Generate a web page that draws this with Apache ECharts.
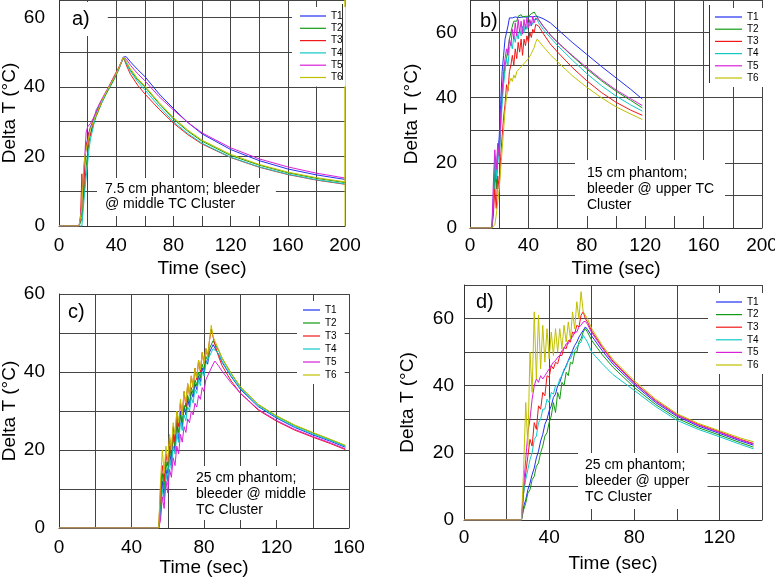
<!DOCTYPE html>
<html>
<head>
<meta charset="utf-8">
<script src="https://cdn.jsdelivr.net/npm/echarts@6/dist/echarts.min.js"></script>
<style>
  html, body { margin: 0; padding: 0; background: #fff; }
  #chart { width: 775px; height: 580px; }
</style>
</head>
<body>
<div id="chart"></div>
<script>
// thermocouple names and colours
const seriesNames = ['T1', 'T2', 'T3', 'T4', 'T5', 'T6'];
const seriesColors = ['#2030f0', '#129a12', '#f01818', '#10c8c8', '#d820d8', '#c0c000'];

// a) 7.5 cm phantom, bleeder @ middle TC cluster
const timeA = [0, 14, 15, 16, 17, 18, 19, 20, 21, 22, 24, 26, 28, 30, 33, 36, 39, 42, 45, 46, 47, 48, 50, 55, 60, 70, 80, 90, 100, 120, 140, 160, 180, 200];
const aT1 = [0, 0, 0, 4, 12, 19, 23, 25, 27, 28.5, 30.5, 32.5, 34.5, 36, 38.5, 40.5, 42.8, 45.5, 48.6, 49, 48.7, 48.2, 47.2, 45, 43, 38, 33.8, 29.8, 26.5, 22, 18.8, 16.4, 14.7, 13.4];
const aT2 = [0, 0, 0, 2, 7, 12, 17, 21, 24, 26.5, 29, 31.5, 33.5, 35.5, 38, 40.2, 42.5, 45.2, 48.4, 47.8, 47, 46.2, 44.8, 42, 40, 35.2, 30.8, 27.3, 24.4, 20.3, 17.5, 15.3, 13.7, 12.5];
const aT3 = [0, 0, 2, 15, 8, 17, 24, 22, 27, 26, 30.5, 32, 34, 36.2, 38.5, 41, 43.5, 45.8, 48.3, 47.4, 46.4, 45.4, 43.6, 40.5, 38, 33.6, 29.6, 26.3, 23.6, 19.7, 16.9, 14.8, 13.2, 12];
const aT4 = [0, 0, 0, 0, 5, 10, 14, 18, 22, 25, 28.5, 33.5, 34.5, 35.5, 38.5, 40.5, 43, 45.4, 48.4, 47.7, 46.8, 46, 44.4, 41.5, 39.2, 34.4, 30, 26.6, 23.8, 19.8, 17, 14.9, 13.3, 12.1];
const aT5 = [0, 0, 0, 6, 14, 20, 27, 28.5, 29, 29.5, 31, 33, 35, 36.5, 38.8, 41, 43.2, 45.6, 48.5, 48.5, 48, 47.4, 46.2, 43.8, 41.8, 37.2, 33.4, 29.8, 26.8, 22.5, 19.3, 17, 15.2, 13.8];
const aT6 = [0, 0, 0, 5, 15, 20, 22, 24, 26, 28, 30, 32, 34, 36, 38.5, 40.8, 43, 45.6, 48.6, 48.2, 47.4, 46.6, 45.2, 42.4, 40.3, 35.5, 31.2, 27.6, 24.7, 20.6, 17.7, 15.5, 13.9, 12.7];
const aT6Tail = [[200, 70], [200, 0]]; // T6 trace jumps at the end of the record

// b) 15 cm phantom, bleeder @ upper TC cluster
const timeB = [0, 15, 16, 17, 18, 19, 20, 21, 22, 23, 24, 25, 26, 27, 28, 29, 30, 31, 32, 33, 34, 35, 36, 37, 38, 39, 40, 41, 42, 43, 44, 45, 46, 47, 50, 55, 60, 70, 80, 90, 100, 110, 118];
const bT1 = [0, 0, 8, 18, 14, 22, 28, 38, 48, 53, 58, 60, 62, 64.5, 65, 64.5, 65, 64.8, 65, 64.6, 65, 64.7, 65.1, 64.8, 65, 64.7, 65.2, 64.9, 65, 64.8, 65.2, 65, 65, 64.8, 64.3, 63, 61, 57, 53.3, 49.6, 46.1, 42.6, 39.6];
const bT2 = [0, 0, 6, 20, 12, 24, 22, 32, 40, 46, 50, 52, 55, 58, 60, 62, 63.5, 64, 63.5, 65, 64.5, 65.5, 64.8, 65.3, 65, 65.6, 65, 65.5, 65.8, 65.2, 66.3, 65.5, 64.8, 64, 62, 59.3, 57, 52.8, 48.8, 45.2, 42, 39.2, 36.9];
const bT3 = [0, 0, 4, 12, 6, 16, 12, 22, 28, 34, 38, 44, 42, 48, 50, 53, 50, 55, 52, 57, 54, 58, 53, 58, 56, 59, 57, 60, 58.5, 61, 60, 62.5, 63, 62, 59.8, 56.5, 54, 49.3, 45.2, 41.6, 38.6, 36.2, 34.6];
const bT4 = [0, 0, 10, 22, 15, 25, 20, 30, 38, 44, 48, 52, 50, 55, 57, 55, 59, 57, 60, 58, 61, 59, 62, 60, 62.5, 61, 63, 62, 63.5, 62.5, 64, 64.5, 64, 63, 61, 58.5, 56, 51.6, 47.4, 43.7, 40.5, 37.8, 35.9];
const bT5 = [0, 0, 14, 24, 18, 26, 22, 34, 42, 48, 52, 55, 53, 58, 56, 61, 58, 63, 59, 64, 60, 63.5, 59.5, 64, 61, 64.5, 61.5, 64, 62, 65, 63, 64.5, 64.8, 64, 62, 59.3, 57, 53, 49.2, 45.6, 42.4, 39.7, 37.6];
const bT6 = [0, 0, 0, 1, 4, 8, 12, 18, 24, 30, 36, 40, 43, 44.5, 46, 45, 47, 46, 48, 47.5, 49, 48.5, 50, 49.5, 51, 50.5, 52, 52.5, 53.5, 54.5, 55.5, 57, 58, 57.5, 55.8, 53.2, 51, 46.8, 43.2, 40, 37.2, 35, 33.3];

// c) 25 cm phantom, bleeder @ middle TC cluster
const timeC = [0, 55, 56, 57, 58, 59, 60, 61, 62, 63, 64, 65, 66, 67, 68, 69, 70, 71, 72, 73, 74, 75, 76, 77, 78, 79, 80, 81, 82, 83, 84, 85, 86, 88, 90, 95, 100, 110, 120, 130, 140, 150, 158];
const cT1 = [0, 0, 4, 12, 8, 15, 12, 20, 16, 24, 20, 28, 22, 30, 26, 31, 29, 33, 31, 35, 33.5, 37, 35.5, 39, 37.5, 41, 39.5, 43, 42, 45, 44.5, 47, 46.5, 44.5, 42.5, 38.8, 35.6, 31.1, 28.2, 25.8, 23.9, 22.2, 20.7];
const cT2 = [0, 0, 6, 14, 10, 17, 14, 21, 18, 24, 21, 27, 24.5, 29, 27, 31.5, 29.5, 34, 32, 36, 34.5, 38, 36.5, 40, 38.5, 42, 40.5, 44, 43, 46, 45.5, 48, 47.8, 45.6, 43.5, 39.6, 36.2, 31.6, 28.7, 26.3, 24.4, 22.6, 21.1];
const cT3 = [0, 0, 10, 16, 12, 19, 16, 23, 19, 26, 22, 30, 26, 32, 29, 35, 31, 37, 34, 39, 36, 41, 38, 43, 40, 45, 42, 46, 44, 48, 51, 49, 47, 44, 41.6, 37.7, 34.6, 30.2, 27.4, 25.1, 23.3, 21.6, 20.1];
const cT4 = [0, 0, 3, 10, 7, 14, 11, 18, 15, 21, 19, 24, 22, 27, 25, 29, 27.5, 31, 30, 33.5, 32, 35.5, 34.5, 38, 36.5, 40, 39, 42, 41.5, 44, 44, 46, 46.5, 44.8, 42.8, 39, 35.8, 31.3, 28.4, 26, 24.1, 22.4, 20.9];
const cT5 = [0, 0, 2, 8, 5, 12, 9, 15, 13, 18, 16, 21, 19, 24, 22, 26, 24.5, 28, 27, 30, 29, 32, 31, 34, 33, 36, 35, 38, 37.5, 40, 40, 42, 42.8, 41.6, 40.2, 37.2, 34.6, 30.4, 27.6, 25.3, 23.5, 21.8, 20.3];
const cT6 = [0, 0, 12, 20, 14, 21, 17, 24, 20, 27, 24, 30, 27, 33, 29, 35, 32, 37, 34, 39, 36, 41, 38.5, 43, 40.5, 45, 42, 46, 44, 48, 52, 49, 48, 45.8, 43.6, 39.7, 36.3, 31.7, 28.8, 26.4, 24.5, 22.7, 21.2];

// d) 25 cm phantom, bleeder @ upper TC cluster
const timeD = [0, 27, 28, 29, 30, 31, 32, 33, 34, 35, 36, 37, 38, 39, 40, 41, 42, 43, 44, 45, 46, 47, 48, 49, 50, 51, 52, 53, 54, 55, 56, 57, 58, 60, 65, 70, 80, 90, 100, 110, 120, 130, 136];
const dT1 = [0, 0, 4, 6, 9, 11, 13.5, 15.5, 18.5, 20.5, 23.5, 25.5, 28.5, 30, 32.5, 34, 36.5, 37.5, 40, 41, 43, 44.5, 46, 47.5, 49, 50.5, 52, 53, 54.5, 55.5, 56.5, 57.5, 56.8, 54.8, 50.4, 46.4, 40.3, 35, 30.9, 28, 25.8, 23.5, 22.3];
const dT2 = [0, 0, 3, 5, 8, 9, 12, 13, 16, 17, 20, 22, 25, 26, 29, 31, 35, 32, 38, 36, 41, 40, 44, 43, 47, 46.5, 50, 50, 53, 54, 56, 57, 56, 53.5, 49.2, 45.5, 39.5, 34.4, 30.3, 27.5, 25.3, 23, 21.7];
const dT3 = [0, 0, 8, 14, 19, 24, 22, 29, 27, 34, 33, 38, 37, 43, 42.5, 46, 45, 47, 46.5, 49, 49, 51.5, 51, 53.5, 53, 56, 55.5, 58, 57.5, 61, 62, 60, 59, 56.3, 51.5, 47.3, 41, 35.6, 31.4, 28.5, 26.3, 24, 22.8];
const dT4 = [0, 0, 8, 12, 15, 18, 20, 24, 25, 29, 30, 33, 33, 36, 35, 38, 37.5, 40, 40, 42, 43, 45, 45.5, 47.5, 48, 49.5, 50.5, 51.5, 52.5, 53, 55, 54, 53, 50, 46.5, 43.3, 38.6, 33.8, 29.7, 27, 24.8, 22.5, 21.2];
const dT5 = [0, 0, 10, 18, 26, 30, 36, 40, 42, 41, 43, 42, 43, 44, 45, 46, 47, 47.5, 48.5, 49, 50.5, 51, 52.5, 52.5, 54, 54.5, 56, 56, 57.5, 58, 59, 59.2, 58.3, 55.8, 51.2, 47, 40.8, 35.4, 31.2, 28.3, 26.1, 23.8, 22.6];
const dT6 = [0, 0, 15, 35, 22, 50, 38, 62, 42, 61, 45, 58, 47, 57, 48, 56, 49, 57, 50, 57, 51, 58, 53, 59, 54, 62, 57, 65, 60, 68, 62, 61, 60, 57, 52, 47.8, 41.5, 36, 31.7, 28.8, 26.6, 24.4, 23.3];

const FONT = '"Liberation Sans", Arial, Helvetica, sans-serif';

function pairs(time, vals) {
    return time.map((t, i) => [t, vals[i]]);
}

// layout of the four panels
const panels = [
    { time: timeA, vals: [aT1, aT2, aT3, aT4, aT5, aT6], grid: { left: 59, top: 0, width: 286, height: 226 },
      xMax: 200, yMax: 65, xLabelMargin: 10, xNameGap: 33, yLabelMargin: 14, yNameGap: 40,
      legend: { left: 292, top: 7, itemWidth: 26, itemGap: 2.3, padding: [4, 3, 4, 8] } },
    { time: timeB, vals: [bT1, bT2, bT3, bT4, bT5, bT6], grid: { left: 470, top: 0, width: 292, height: 228 },
      xMax: 200, yMax: 70, xLabelMargin: 8, xNameGap: 31, yLabelMargin: 13, yNameGap: 49,
      legend: { left: 709, top: 8, itemWidth: 27, itemGap: 2.2, padding: [4, 6, 4, 6] } },
    { time: timeC, vals: [cT1, cT2, cT3, cT4, cT5, cT6], grid: { left: 59, top: 294, width: 290, height: 234 },
      xMax: 160, yMax: 60, xLabelMargin: 10, xNameGap: 30, yLabelMargin: 14, yNameGap: 40,
      legend: { left: 297, top: 301, itemWidth: 17, itemGap: 3, padding: [4, 8, 4, 6] } },
    { time: timeD, vals: [dT1, dT2, dT3, dT4, dT5, dT6], grid: { left: 464, top: 285, width: 298, height: 235 },
      xMax: 140, yMax: 70, xLabelMargin: 8, xNameGap: 34, yLabelMargin: 10, yNameGap: 47,
      legend: { left: 708, top: 293, itemWidth: 26, itemGap: 2.6, padding: [4, 6, 4, 8] } }
];

const series = [];
panels.forEach((p, pi) => {
    p.vals.forEach((v, si) => {
        let data = pairs(p.time, v);
        if (pi === 0 && si === 5) data = data.concat(aT6Tail);
        series.push({
            type: 'line',
            name: seriesNames[si],
            xAxisIndex: pi,
            yAxisIndex: pi,
            data: data,
            symbol: 'none',
            showSymbol: false,
            clip: true,
            lineStyle: { width: 1, color: seriesColors[si] },
            itemStyle: { color: seriesColors[si] },
            emphasis: { disabled: true }
        });
    });
});

const option = {
    animation: false,
    backgroundColor: '#fff',
    textStyle: { fontFamily: FONT },
    grid: panels.map(p => Object.assign({ outerBoundsMode: 'none', containLabel: false }, p.grid)),
    xAxis: panels.map((p, i) => ({
        type: 'value', gridIndex: i, min: 0, max: p.xMax, interval: 20,
        name: 'Time (sec)', nameLocation: 'middle', nameGap: p.xNameGap,
        nameTextStyle: { fontSize: 19, color: '#000', fontFamily: FONT },
        axisLine: { lineStyle: { color: '#333', width: 1 } },
        axisTick: { show: false },
        axisLabel: { margin: p.xLabelMargin, fontSize: 19, color: '#000', fontFamily: FONT,
                     formatter: v => (v % 40 === 0 ? String(v) : '') },
        splitLine: { show: true, lineStyle: { color: '#444', width: 1 } }
    })),
    yAxis: panels.map((p, i) => ({
        type: 'value', gridIndex: i, min: 0, max: p.yMax, interval: 10,
        name: 'Delta T (°C)', nameLocation: 'middle', nameGap: p.yNameGap,
        nameTextStyle: { fontSize: 19, color: '#000', fontFamily: FONT },
        axisLine: { show: true, lineStyle: { color: '#333', width: 1 } },
        axisTick: { show: false },
        axisLabel: { margin: p.yLabelMargin, fontSize: 19, color: '#000', fontFamily: FONT,
                     formatter: v => (v % 20 === 0 ? String(v) : '') },
        splitLine: { show: true, lineStyle: { color: '#444', width: 1 } }
    })),
    legend: panels.map(p => Object.assign({
        data: seriesNames, orient: 'vertical', icon: 'rect', itemHeight: 1.2,
        backgroundColor: '#fff', selectedMode: false,
        textStyle: { fontSize: 10, lineHeight: 10, color: '#000', fontFamily: FONT }
    }, p.legend)),
    graphic: [
        { type: 'text', left: 60, top: 2, z: 10,
          style: { text: 'a)', fontSize: 20, fontFamily: FONT, fill: '#000', backgroundColor: '#fff', padding: [7, 18, 7, 12] } },
        { type: 'text', left: 480, top: 11, z: 10,
          style: { text: 'b)', fontSize: 20, fontFamily: FONT, fill: '#000' } },
        { type: 'text', left: 68, top: 302, z: 10,
          style: { text: 'c)', fontSize: 20, fontFamily: FONT, fill: '#000' } },
        { type: 'text', left: 476, top: 292, z: 10,
          style: { text: 'd)', fontSize: 20, fontFamily: FONT, fill: '#000' } },
        { type: 'text', left: 97, top: 178, z: 10,
          style: { text: '7.5 cm phantom; bleeder\n@ middle TC Cluster', fontSize: 14, lineHeight: 15, fontFamily: FONT,
                   fill: '#000', backgroundColor: '#fff', padding: [4, 16, 4, 8] } },
        { type: 'text', left: 575, top: 160, z: 10,
          style: { text: '15 cm phantom;\nbleeder @ upper TC\nCluster', fontSize: 14, lineHeight: 16, fontFamily: FONT,
                   fill: '#000', backgroundColor: '#fff', padding: [5, 11, 3, 12] } },
        { type: 'text', left: 187, top: 466, z: 10,
          style: { text: '25 cm phantom;\nbleeder @ middle\nTC Cluster', fontSize: 14, lineHeight: 16, fontFamily: FONT,
                   fill: '#000', backgroundColor: '#fff', padding: [4, 6, 2, 9] } },
        { type: 'text', left: 578, top: 453, z: 10,
          style: { text: '25 cm phantom;\nbleeder @ upper\nTC Cluster', fontSize: 14, lineHeight: 16, fontFamily: FONT,
                   fill: '#000', backgroundColor: '#fff', padding: [4, 18, 4, 7] } },
        // partial legend frames
        { type: 'line', z: 10, shape: { x1: 342.5, y1: 4, x2: 342.5, y2: 80 }, style: { stroke: '#333', lineWidth: 1 } },
        { type: 'line', z: 10, shape: { x1: 709.5, y1: 5, x2: 709.5, y2: 83 }, style: { stroke: '#333', lineWidth: 1 } }
    ],
    series: series
};

const chart = echarts.init(document.getElementById('chart'), null, { renderer: 'canvas' });
chart.setOption(option);
</script>
</body>
</html>
